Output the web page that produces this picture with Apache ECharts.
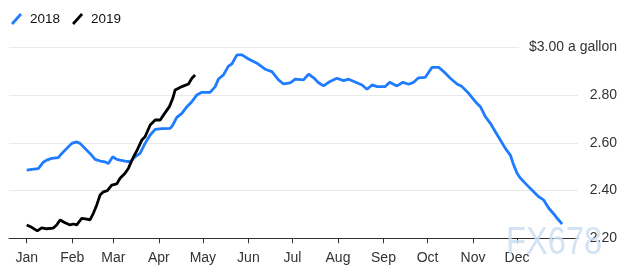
<!DOCTYPE html>
<html>
<head>
<meta charset="utf-8">
<script src="https://cdn.jsdelivr.net/npm/echarts@6/dist/echarts.min.js"></script>
<style>
html,body{margin:0;padding:0;background:#fff;}
#chart{width:635px;height:278px;}
</style>
</head>
<body>
<div id="chart"></div>
<script>
// Day of year (0 = Jan 1) and price
var days2018 = [0,3.4,7.9,11.3,13.6,17,21.5,23.9,27.3,30.7,34.1,36.3,39.7,43.1,46.6,50,53.4,55.6,58.6,61.3,63.6,67,70.4,73.8,77.2,80.6,84.1,87.5,92,97.7,99.5,102.2,105.7,109.1,112.5,115.9,119.3,124.9,128.4,130.6,134,137.4,139.7,143.2,146.6,151.1,156.8,162.4,167,171.5,174.9,179.5,182.9,188.5,192,195.4,198.8,202.2,205.6,211.3,215.8,219.2,224.9,228.4,231.8,235.2,238.6,244.2,247.2,252.2,256.3,260.1,263.5,266.9,271.5,276.1,280.6,284,288.5,293.1,296.5,301,305.6,309,312.4,315.8,319.2,322.6,326,329.4,331.7,334,336.3,340.8,345.3,348.7,352.1,355.6,359,361.3,364.7];
var prices2018 = [2.486,2.489,2.492,2.519,2.528,2.535,2.538,2.556,2.577,2.598,2.604,2.598,2.577,2.556,2.531,2.524,2.520,2.514,2.542,2.531,2.528,2.524,2.521,2.542,2.556,2.598,2.633,2.657,2.660,2.661,2.675,2.707,2.724,2.752,2.773,2.801,2.812,2.812,2.836,2.868,2.885,2.922,2.931,2.969,2.969,2.952,2.934,2.909,2.899,2.864,2.847,2.852,2.867,2.864,2.888,2.873,2.852,2.839,2.854,2.871,2.861,2.867,2.852,2.843,2.825,2.843,2.836,2.836,2.854,2.839,2.854,2.846,2.854,2.873,2.875,2.917,2.917,2.899,2.871,2.847,2.836,2.808,2.773,2.752,2.710,2.682,2.647,2.612,2.577,2.549,2.507,2.473,2.452,2.423,2.395,2.374,2.361,2.326,2.302,2.284,2.260];
var days2019 = [0,3.4,7.2,10.2,13.6,18.1,20.4,22.7,26.1,29.5,31.8,34.1,37.5,40.9,43.1,45.4,47.7,50,52.2,54.9,57.9,61.3,63.6,67,69.3,72.7,75.2,78.4,80.6,84.1,87.5,90.9,94.3,97.2,99.5,101.1,105.7,110.2,112.5,114.7];
var prices2019 = [2.256,2.246,2.231,2.244,2.240,2.243,2.256,2.277,2.265,2.256,2.260,2.256,2.284,2.280,2.277,2.305,2.340,2.382,2.395,2.400,2.423,2.428,2.452,2.473,2.494,2.541,2.570,2.612,2.626,2.675,2.696,2.696,2.727,2.752,2.787,2.822,2.836,2.847,2.871,2.885];
var monthStarts = [0,31,59,90,120,151,181,212,243,273,304,334];
var monthNames = ['Jan','Feb','Mar','Apr','May','Jun','Jul','Aug','Sep','Oct','Nov','Dec'];
var yTicks = [2.2,2.4,2.6,2.8,3.0];
var seriesNames = ['2018','2019'];

function pairs(xs, ys){ return xs.map(function(x,i){ return [x, ys[i]]; }); }

var chart = echarts.init(document.getElementById('chart'), null, {renderer:'canvas'});
var font = '"Liberation Sans", Arial, Helvetica, sans-serif';
var slash = 'path://M0,10 L9,0 L11,2 L2,12 Z';

chart.setOption({
  animation: false,
  backgroundColor: '#fff',
  textStyle: {fontFamily: font},
  legend: {
    left: 6, top: 7,
    itemWidth: 11, itemHeight: 12, itemGap: 12,
    data: [
      {name: seriesNames[0], icon: slash, itemStyle:{color:'#1f7bff'}},
      {name: seriesNames[1], icon: slash, itemStyle:{color:'#000'}}
    ],
    textStyle: {fontSize: 13.5, color: '#111', fontFamily: font, padding:[0,0,0,3]}
  },
  grid: {left: 9, right: 57, top: 47.5, bottom: 39.7, containLabel: false},
  xAxis: {
    type: 'value',
    min: -12.07, max: 375.5,
    axisLine: {show: true, lineStyle: {color: '#333', width: 1}},
    axisTick: {show: true, customValues: monthStarts, length: 5, lineStyle: {color: '#333'}},
    axisLabel: {
      customValues: monthStarts,
      margin: 13,
      fontSize: 14, color: '#333', fontFamily: font,
      formatter: function(v){ var i = monthStarts.indexOf(Math.round(v)); return i >= 0 ? monthNames[i] : ''; }
    },
    splitLine: {show: false}
  },
  yAxis: {
    type: 'value',
    position: 'right',
    min: yTicks[0], max: yTicks[yTicks.length-1], interval: 0.2,
    axisLine: {show: false},
    axisTick: {show: false},
    splitLine: {show: true, lineStyle: {color: '#e9e9e9', width: 1}},
    axisLabel: {
      align: 'right', margin: 39,
      fontSize: 14, color: '#333', fontFamily: font,
      formatter: function(v){
        if (Math.abs(v - 3.0) < 1e-6) return '{a|$3.00 a gallon}';
        return v.toFixed(2);
      },
      rich: {a: {fontSize: 14, color: '#333', fontFamily: font, backgroundColor: '#fff', padding: [3,0,3,10]}}
    }
  },
  graphic: [{
    type: 'text', x: 506, y: 225, scaleX: 0.86, z: 100, silent: true,
    style: {
      text: 'FX678', fontSize: 38, fontFamily: font,
      fill: 'rgba(205,222,242,0.85)',
      shadowColor: 'rgba(140,110,80,0.4)', shadowOffsetX: 1.5, shadowOffsetY: 1.5, shadowBlur: 1
    }
  }],
  series: [
    {name: seriesNames[0], type: 'line', data: pairs(days2018, prices2018), showSymbol: false,
     lineStyle: {color: '#1f7bff', width: 2.8}, itemStyle: {color: '#1f7bff'}, z: 2},
    {name: seriesNames[1], type: 'line', data: pairs(days2019, prices2019), showSymbol: false,
     lineStyle: {color: '#000', width: 2.8}, itemStyle: {color: '#000'}, z: 3}
  ]
});
</script>
</body>
</html>
